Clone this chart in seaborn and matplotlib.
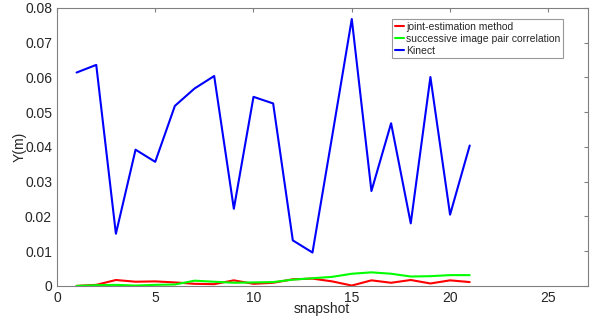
import numpy as np
import pandas as pd
import matplotlib
matplotlib.use("Agg")
import matplotlib.pyplot as plt
import seaborn as sns

snapshot = list(range(1, 22))
joint = [0.0, 0.0003, 0.0017, 0.0012, 0.0013, 0.0010, 0.0006, 0.0005, 0.0016, 0.0006, 0.0009,
         0.0019, 0.0021, 0.0013, 0.0001, 0.0016, 0.0009, 0.0017, 0.0007, 0.0016, 0.0011]
successive = [0.0, 0.0002, 0.0003, 0.0001, 0.0003, 0.0004, 0.0015, 0.0012, 0.0009, 0.0010, 0.0011,
              0.0018, 0.0022, 0.0026, 0.0035, 0.0039, 0.0035, 0.0027, 0.0028, 0.0031, 0.0031]
kinect = [0.0614, 0.0636, 0.0150, 0.0392, 0.0357, 0.0518, 0.0568, 0.0604, 0.0222, 0.0544, 0.0525,
          0.0131, 0.0096, 0.0430, 0.0768, 0.0273, 0.0468, 0.0180, 0.0601, 0.0205, 0.0404]
labels = ["joint-estimation method", "successive image pair correlation", "Kinect"]
colors = ["#ff0000", "#00ff00", "#0000ff"]

df = pd.DataFrame({"snapshot": snapshot * 3,
                   "Y": joint + successive + kinect,
                   "series": [labels[0]] * 21 + [labels[1]] * 21 + [labels[2]] * 21})

sns.set_style("white")
plt.rcParams['font.family'] = ['Liberation Sans', 'DejaVu Sans']
fig = plt.figure(figsize=(5.93, 3.29), dpi=100)
ax = fig.add_axes([0.096, 0.131, 0.895, 0.845])
sns.lineplot(data=df, x="snapshot", y="Y", hue="series", palette=colors, ax=ax, linewidth=1.5)
ax.set_xlim(0, 27)
ax.set_ylim(0, 0.08)
ax.set_xticks([0, 5, 10, 15, 20, 25])
ax.set_yticks(np.arange(0, 0.081, 0.01))
ax.set_yticklabels(["0"] + [f"{v:.2f}" for v in np.arange(0.01, 0.081, 0.01)])
ax.set_xlabel("snapshot", fontsize=10, color="#262626", labelpad=-2)
ax.set_ylabel("Y(m)", fontsize=10, color="#262626", labelpad=-1)
for s in ax.spines.values():
    s.set_color("#808080")
    s.set_linewidth(0.8)
ax.tick_params(direction="in", length=3, color="#808080", labelsize=10, labelcolor="#262626",
               top=True, right=True, labeltop=False, labelright=False)
leg = ax.legend(loc="upper right", bbox_to_anchor=(0.953, 0.96), frameon=True, fancybox=False,
                fontsize=7.5, handlelength=0.9, handletextpad=0.15, borderpad=0.25,
                labelspacing=0.2, borderaxespad=0)
leg.get_frame().set_edgecolor("#808080")
leg.get_frame().set_linewidth(0.8)
fig.savefig("out.png", dpi=100)
